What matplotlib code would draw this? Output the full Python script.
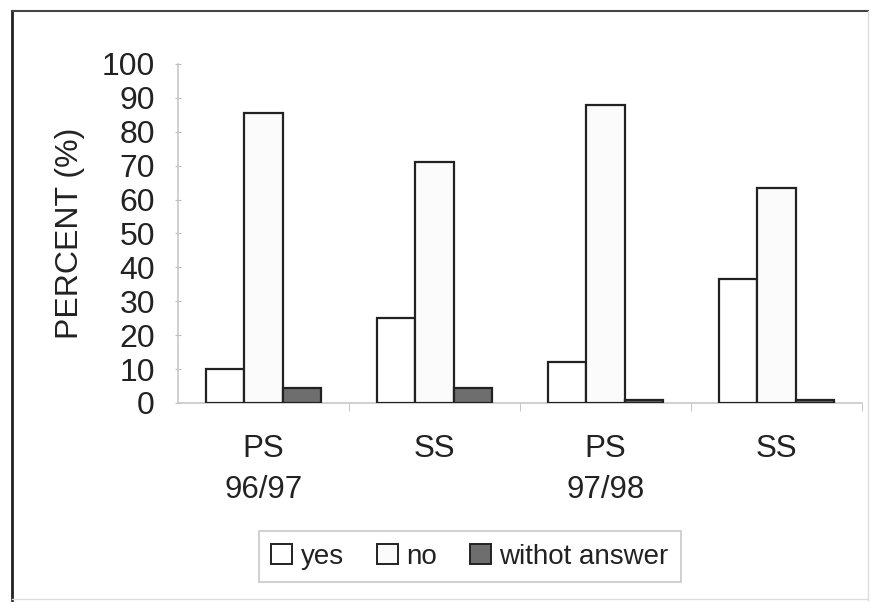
import matplotlib
matplotlib.use("Agg")
import matplotlib.pyplot as plt
import numpy as np
from matplotlib.patches import Rectangle
from matplotlib.lines import Line2D

plt.rcParams['font.family'] = ['Liberation Sans', 'DejaVu Sans']

groups = ["PS\n96/97", "SS", "PS\n97/98", "SS"]
yes = [10, 25, 12, 36.5]
no = [85.5, 71, 88, 63.5]
without = [4.5, 4.5, 1, 1]
series_names = ["yes", "no", "withot answer"]
yticks = list(range(0, 101, 10))

fig = plt.figure(figsize=(8.72, 6.03), dpi=100)
ax = fig.add_axes([0.204, 0.3317, 0.7845, 0.5622])

x = np.arange(len(groups)) + 0.5
w = 0.225
colors = ["white", "#fbfbfb", "#6e6e6e"]
for i, (vals, c) in enumerate(zip([yes, no, without], colors)):
    ax.bar(x + (i - 1) * w, vals, width=w, color=c, edgecolor="#222222",
           linewidth=1.6, label=series_names[i], zorder=3)

ax.set_xlim(0, 4)
ax.set_ylim(0, 100)
ax.set_yticks(yticks)
ax.set_yticklabels([str(t) for t in yticks], fontsize=23, color="#222222")
ax.set_xticks(x)
ax.set_xticklabels(groups, fontsize=22.5, color="#222222", linespacing=1.5)
ax.tick_params(axis="x", length=0, pad=22)
ax.set_xticks([1, 2, 3, 4], minor=True)
ax.tick_params(axis="x", which="minor", length=6, color="#bbbbbb", direction="out")
ax.tick_params(axis="y", length=5, color="#bbbbbb", direction="inout", pad=14)
for s in ["top", "right"]:
    ax.spines[s].set_visible(False)
for s in ["left", "bottom"]:
    ax.spines[s].set_color("#c8c8c8")
    ax.spines[s].set_linewidth(1.2)
ax.set_ylabel("PERCENT (%)", fontsize=23, color="#222222", labelpad=12)

handles = [Rectangle((0, 0), 1, 1, facecolor=c, edgecolor="#222222", linewidth=1.4)
           for c in colors]
leg = fig.legend(handles, series_names, loc="center", bbox_to_anchor=(0.539, 0.0763),
                 ncol=3, fontsize=20, frameon=True, fancybox=False,
                 handlelength=0.75, handleheight=0.75, handletextpad=0.3,
                 columnspacing=1.2, borderpad=0.45)
leg.get_frame().set_edgecolor("#bbbbbb")
leg.get_frame().set_linewidth(1.2)
for t in leg.get_texts():
    t.set_color("#222222")

# outer frame
fig.add_artist(Line2D([12/872, 12/872], [0.005, 1 - 11/603], transform=fig.transFigure,
                      color="#222222", linewidth=2))
fig.add_artist(Line2D([12/872, 868/872], [1 - 11/603, 1 - 11/603], transform=fig.transFigure,
                      color="#444444", linewidth=1.5))
fig.add_artist(Line2D([868/872, 868/872], [0.005, 1 - 11/603], transform=fig.transFigure,
                      color="#dddddd", linewidth=1))
fig.add_artist(Line2D([12/872, 868/872], [0.006, 0.006], transform=fig.transFigure,
                      color="#dddddd", linewidth=1))

fig.savefig("out.png", dpi=100)
